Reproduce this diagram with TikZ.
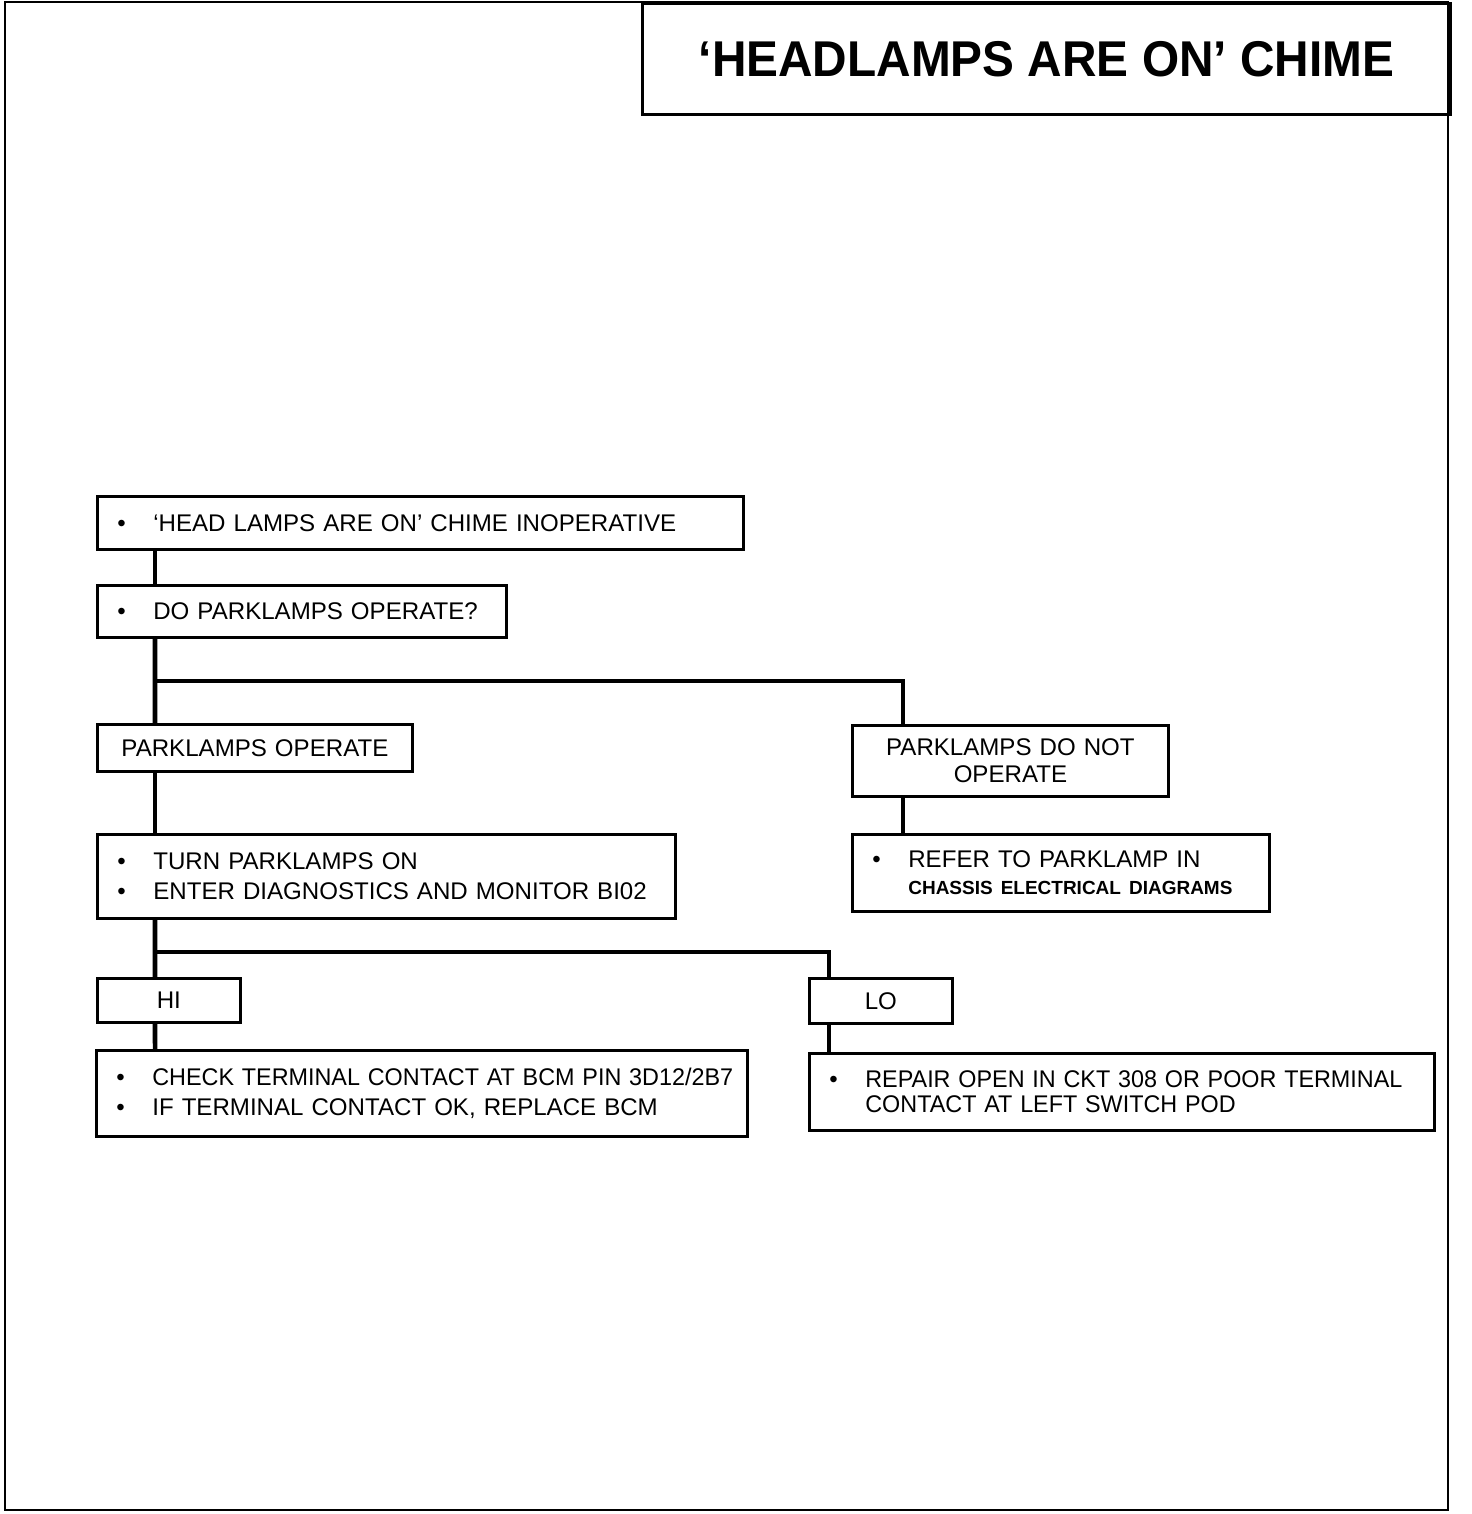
\documentclass[tikz,border=0pt]{standalone}
\usepackage{fontspec}
\setmainfont{Liberation Sans}
\usepackage{tikz}
\usepackage{xcolor}

\newcommand{\bul}{\makebox[0.36cm][l]{\textbullet}}

\begin{document}
\begin{tikzpicture}[x=0.01cm, y=-0.01cm,
  boks/.style={draw, line width=0.75pt, anchor=north west, inner xsep=0.2cm,
    inner ysep=0pt, align=left, font=\fontsize{6.85}{7.6}\selectfont},
  midtboks/.style={boks, align=center},
  forb/.style={line width=1.3pt}]
  \useasboundingbox (0,0) rectangle (1472,1514);
  % Ramme og tittel
  \draw[line width=0.7pt] (5,2) rectangle (1448,1510);
  \node[draw, line width=0.75pt, anchor=north west, minimum width=8.08cm,
    minimum height=1.11cm, inner sep=0pt,
    font=\fontsize{14.3}{16}\selectfont\bfseries] (tittel) at (641,2)
    {\scalebox{0.95}[1]{`HEADLAMPS ARE ON' CHIME}};
  % Bokser
  \node[boks, text width=6.06cm, minimum height=0.53cm] (a) at (96,495)
    {\mbox{\bul`HEAD LAMPS ARE ON' CHIME INOPERATIVE}};
  \node[boks, text width=3.69cm, minimum height=0.52cm] (b) at (96,584)
    {\mbox{\bul DO PARKLAMPS OPERATE?}};
  \node[midtboks, text width=2.75cm, minimum height=0.47cm] (c) at (96,723)
    {PARKLAMPS OPERATE};
  \node[midtboks, text width=2.76cm, minimum height=0.71cm] (d) at (851,724)
    {PARKLAMPS DO NOT\\OPERATE};
  \node[boks, text width=5.38cm, minimum height=0.84cm] (e) at (96,833)
    {\mbox{\bul TURN PARKLAMPS ON}\\[1.1pt]
     \mbox{\bul ENTER DIAGNOSTICS AND MONITOR BI02}};
  \node[boks, text width=3.77cm, minimum height=0.77cm] (f) at (851,833)
    {\mbox{\bul REFER TO PARKLAMP IN}\\
     \mbox{\hspace*{0.36cm}\fontsize{5.4}{6}\selectfont\bfseries CHASSIS ELECTRICAL DIAGRAMS}};
  \node[midtboks, text width=1.03cm, minimum height=0.44cm] (hi) at (96,977) {HI};
  \node[midtboks, text width=1.03cm, minimum height=0.45cm] (lo) at (808,977) {LO};
  \node[boks, text width=6.11cm, minimum height=0.86cm] (g) at (95,1049)
    {\mbox{\bul\scalebox{0.97}[1]{CHECK TERMINAL CONTACT AT BCM PIN 3D12/2B7}}\\[0.8pt]
     \mbox{\bul IF TERMINAL CONTACT OK, REPLACE BCM}};
  \node[boks, text width=5.85cm, minimum height=0.77cm] (h) at (808,1052)
    {\mbox{\bul\scalebox{0.97}[1]{REPAIR OPEN IN CKT 308 OR POOR TERMINAL}}\\[-0.5pt]
     \mbox{\hspace*{0.36cm}\scalebox{0.97}[1]{CONTACT AT LEFT SWITCH POD}}};
  % Forbindelser
  \coordinate (grein1) at (155,681);
  \coordinate (grein2) at (155,952);
  \draw[forb] ([xshift=0.59cm]a.south west) -- ([xshift=0.59cm]b.north west);
  \draw[forb] ([xshift=0.59cm]b.south west) -- (grein1) -- ([xshift=0.59cm]c.north west);
  \draw[forb] (grein1) -| ([xshift=0.52cm]d.north west);
  \draw[forb] ([xshift=0.52cm]d.south west) -- ([xshift=0.52cm]f.north west);
  \draw[forb] ([xshift=0.59cm]c.south west) -- ([xshift=0.59cm]e.north west);
  \draw[forb] ([xshift=0.59cm]e.south west) -- (grein2) -- ([xshift=0.59cm]hi.north west);
  \draw[forb] (grein2) -| ([xshift=0.21cm]lo.north west);
  \draw[forb] ([xshift=0.59cm]hi.south west) -- ([xshift=0.6cm]g.north west);
  \draw[forb] ([xshift=0.21cm]lo.south west) -- ([xshift=0.21cm]h.north west);
\end{tikzpicture}
\end{document}
